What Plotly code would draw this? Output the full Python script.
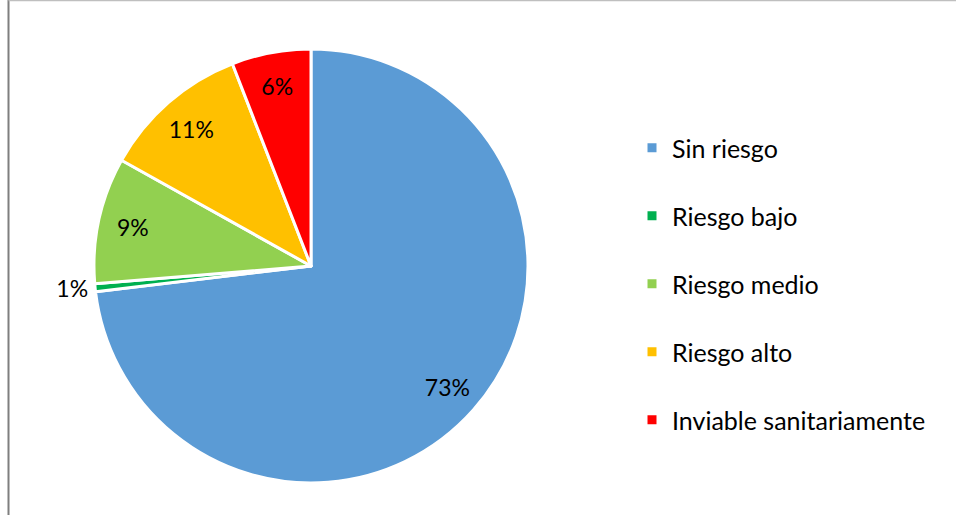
import plotly.graph_objects as go

# Datos del grafico
categorias = ["Sin riesgo", "Riesgo bajo", "Riesgo medio", "Riesgo alto",
              "Inviable sanitariamente"]
valores = [73.1, 0.6, 9.4, 11.0, 5.9]
colores = ["#5B9BD5", "#00B050", "#92D050", "#FFC000", "#FF0000"]
posicion_texto = ["inside", "outside", "inside", "inside", "inside"]

W, H = 956, 515
FUENTE = "Lato"
DOMINIO = dict(x=[94 / W, 528 / W], y=[(H - 485) / H, (H - 47) / H])

# etiquetas con una linea extra para separar los items de la leyenda
etiquetas_leyenda = [c + "<br> " for c in categorias]

fig = go.Figure()

# sectores
fig.add_trace(go.Pie(
    labels=etiquetas_leyenda,
    values=valores,
    sort=False,
    direction="clockwise",
    rotation=0,
    marker=dict(colors=colores, line=dict(color="white", width=3)),
    textinfo="none",
    domain=DOMINIO,
    hovertemplate="%{label}%{percent:.1%}<extra></extra>",
))

# capa transparente (anillo) solo para llevar los porcentajes hacia el borde
fig.add_trace(go.Pie(
    labels=etiquetas_leyenda,
    values=valores,
    sort=False,
    direction="clockwise",
    rotation=0,
    hole=0.68,
    marker=dict(colors=["rgba(0,0,0,0)"] * len(valores),
                line=dict(width=0)),
    texttemplate="%{percent:.0%}",
    textposition=posicion_texto,
    insidetextorientation="horizontal",
    textfont=dict(family=FUENTE, size=23, color="#000000"),
    domain=DOMINIO,
    showlegend=False,
    hoverinfo="skip",
))

# borde del area del grafico
fig.add_shape(type="line", xref="paper", yref="paper",
              x0=8.5 / W, x1=8.5 / W, y0=0, y1=1,
              line=dict(color="#7F7F7F", width=2))
fig.add_shape(type="line", xref="paper", yref="paper",
              x0=8.5 / W, x1=1, y0=1 - 0.5 / H, y1=1 - 0.5 / H,
              line=dict(color="#BFBFBF", width=1.5))

fig.update_layout(
    width=W,
    height=H,
    margin=dict(l=0, r=0, t=0, b=0),
    paper_bgcolor="white",
    plot_bgcolor="white",
    font=dict(family=FUENTE, size=25, color="#000000"),
    legend=dict(
        x=632 / W, xanchor="left",
        y=1 - 125 / H, yanchor="top",
        valign="top",
        font=dict(family=FUENTE, size=25, color="#000000"),
        bgcolor="rgba(0,0,0,0)",
    ),
)

fig.write_html("out.html", config={"displayModeBar": False},
               post_script="document.body.style.margin='0';")
